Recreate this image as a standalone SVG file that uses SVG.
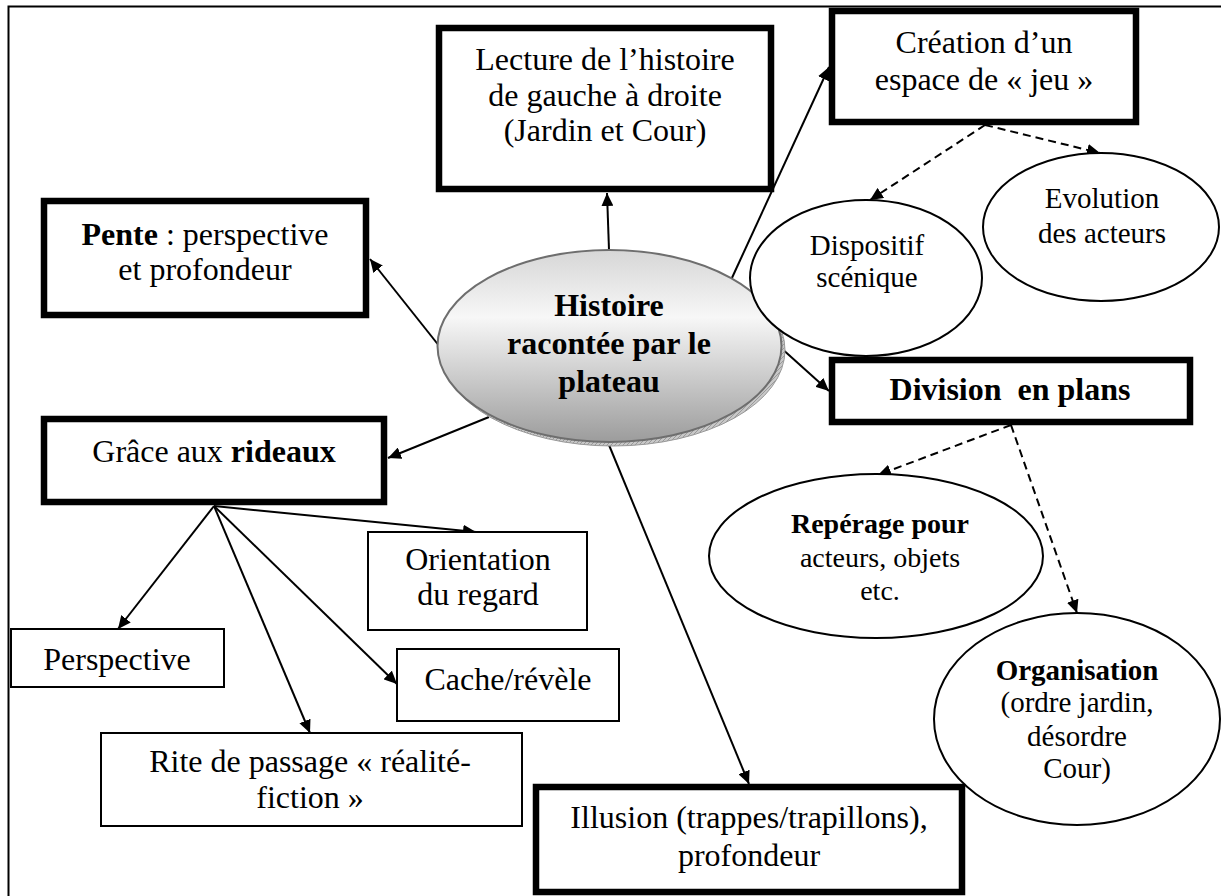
<svg xmlns="http://www.w3.org/2000/svg" width="1221" height="896" viewBox="0 0 1221 896" font-family="'Liberation Serif', Tinos, 'Times New Roman', 'DejaVu Serif', serif">
<style>
text{font-family:'Liberation Serif', Tinos, 'Times New Roman', 'DejaVu Serif', serif;fill:#000;text-anchor:middle}
.t32{font-size:32px}
.t29{font-size:29px}
.t28{font-size:28px}
.b{font-weight:bold}
.thick{fill:#fff;stroke:#000;stroke-width:6.5}
.thin{fill:#fff;stroke:#000;stroke-width:2}
.ell{fill:#fff;stroke:#000;stroke-width:2}
.solid{fill:none;stroke:#000;stroke-width:2;marker-end:url(#ah)}
.dash{fill:none;stroke:#000;stroke-width:2;stroke-dasharray:8 5;marker-end:url(#ah)}
</style>
<defs>
<marker id="ah" markerUnits="userSpaceOnUse" markerWidth="14" markerHeight="12" refX="13" refY="6" orient="auto">
<path d="M0,0 L13,6 L0,12 z" fill="#000"/>
</marker>
<linearGradient id="hg" x1="0" y1="0" x2="0" y2="1">
<stop offset="0" stop-color="#d6d6d6"/>
<stop offset="0.35" stop-color="#f7f7f7"/>
<stop offset="1" stop-color="#9c9c9c"/>
</linearGradient>
<pattern id="hatch" width="4" height="4" patternUnits="userSpaceOnUse">
<rect width="4" height="4" fill="#c8c8c8"/>
<path d="M0,4 L4,0" stroke="#9a9a9a" stroke-width="1"/>
</pattern>
</defs>
<rect x="8.5" y="6.5" width="1300" height="1000" fill="#fff" stroke="#000" stroke-width="2"/>

<g id="connectors">
<path class="solid" d="M609,250 L607,193"/>
<path class="solid" d="M731,280 L829,67"/>
<path class="solid" d="M440,347 L370,259"/>
<path class="solid" d="M489,417 L388,458"/>
<path class="solid" d="M780,347 L829,391"/>
<path class="solid" d="M609,445 L749,784"/>
<path class="solid" d="M214,506 L118,629"/>
<path class="solid" d="M214,506 L310,733"/>
<path class="solid" d="M214,506 L397,684"/>
<path class="solid" d="M214,506 L476,532"/>
<path class="dash" d="M985,125 L870,200"/>
<path class="dash" d="M985,125 L1100,153"/>
<path class="dash" d="M1011,425 L878,475"/>
<path class="dash" d="M1011,425 L1077,613"/>
</g>

<g id="histoire">
<ellipse cx="613" cy="350" rx="172" ry="96" fill="url(#hatch)" stroke="#999" stroke-width="1"/>
<ellipse cx="609.5" cy="346" rx="172" ry="96" fill="url(#hg)" stroke="#6e6e6e" stroke-width="2"/>
<text class="t32 b" x="609" y="316">Histoire</text>
<text class="t32 b" x="609" y="354">racontée par le</text>
<text class="t32 b" x="609" y="392">plateau</text>
</g>

<g id="lecture">
<rect class="thick" x="439" y="28" width="332" height="161"/>
<text class="t32" x="605" y="70">Lecture de l’histoire</text>
<text class="t32" x="605" y="106">de gauche à droite</text>
<text class="t32" x="605" y="141">(Jardin et Cour)</text>
</g>

<g id="creation">
<rect class="thick" x="832" y="11" width="304" height="111"/>
<text class="t32" x="984" y="53">Création d’un</text>
<text class="t32" x="984" y="90">espace de « jeu »</text>
</g>

<g id="dispositif">
<ellipse class="ell" cx="866" cy="278" rx="116" ry="78"/>
<text class="t29" x="867" y="255">Dispositif</text>
<text class="t29" x="867" y="287">scénique</text>
</g>

<g id="evolution">
<ellipse class="ell" cx="1101" cy="227" rx="118" ry="74"/>
<text class="t29" x="1102" y="208">Evolution</text>
<text class="t29" x="1102" y="243">des acteurs</text>
</g>

<g id="pente">
<rect class="thick" x="44" y="201" width="322" height="114"/>
<text class="t32" x="205" y="245"><tspan class="b">Pente</tspan> : perspective</text>
<text class="t32" x="205" y="280">et profondeur</text>
</g>

<g id="division">
<rect class="thick" x="832" y="360" width="358" height="62"/>
<text class="t32 b" x="1010" y="400" style="white-space:pre">Division  en plans</text>
</g>

<g id="grace">
<rect class="thick" x="44" y="419" width="340" height="83"/>
<text class="t32" x="214" y="462">Grâce aux <tspan class="b">rideaux</tspan></text>
</g>

<g id="reperage">
<ellipse class="ell" cx="876" cy="556" rx="167" ry="82"/>
<text class="t28 b" x="880" y="533">Repérage pour</text>
<text class="t28" x="880" y="567">acteurs, objets</text>
<text class="t28" x="880" y="600">etc.</text>
</g>

<g id="organisation">
<ellipse class="ell" cx="1077" cy="719" rx="143" ry="106"/>
<text class="t29 b" x="1077" y="680">Organisation</text>
<text class="t29" x="1077" y="712">(ordre jardin,</text>
<text class="t29" x="1077" y="746">désordre</text>
<text class="t29" x="1077" y="778">Cour)</text>
</g>

<g id="orientation">
<rect class="thin" x="368" y="532" width="219" height="98"/>
<text class="t32" x="478" y="570">Orientation</text>
<text class="t32" x="478" y="605">du regard</text>
</g>

<g id="perspective">
<rect class="thin" x="11" y="629" width="213" height="58"/>
<text class="t32" x="117" y="670">Perspective</text>
</g>

<g id="cache">
<rect class="thin" x="397" y="649" width="222" height="72"/>
<text class="t32" x="508" y="690">Cache/révèle</text>
</g>

<g id="rite">
<rect class="thin" x="101" y="733" width="421" height="93"/>
<text class="t32" x="310" y="772">Rite de passage « réalité-</text>
<text class="t32" x="310" y="808">fiction »</text>
</g>

<g id="illusion">
<rect class="thick" x="536" y="787" width="426" height="105"/>
<text class="t32" x="749" y="828">Illusion (trappes/trapillons),</text>
<text class="t32" x="749" y="866">profondeur</text>
</g>
</svg>
